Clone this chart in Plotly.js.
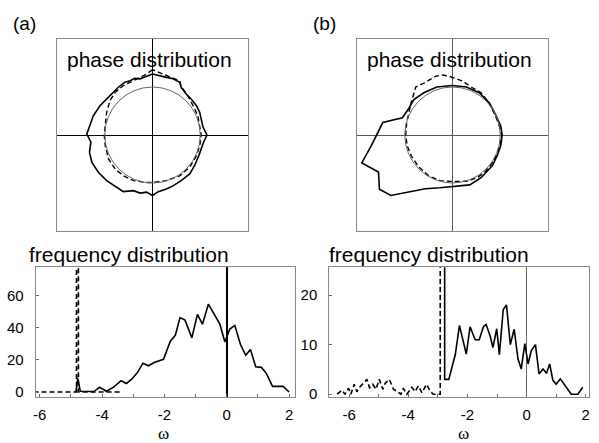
<!DOCTYPE html>
<html>
<head>
<meta charset="utf-8">
<script src="https://cdn.plot.ly/plotly-3.0.1.min.js"></script>
<style>html,body{margin:0;padding:0;background:#fff;}#chart{width:599px;height:443px;}</style>
</head>
<body>
<div id="chart"></div>
<script>
// ---------- DATA ----------
// phase distribution (a): solid and dashed closed curves (x, y in units of circle radius)
const aPhaseSolidX = [0, -0.125, -0.26, -0.37, -0.47, -0.58, -0.72, -0.89, -1.10, -1.24, -1.32, -1.375, -1.29, -1.32, -1.27, -1.13, -0.96, -0.78, -0.61, -0.40, -0.26, -0.125, 0, 0.12, 0.29, 0.43, 0.60, 0.78, 0.88, 0.97, 1.02, 1.07, 1.14, 1.06, 1.02, 0.99, 0.92, 0.81, 0.71, 0.60, 0.57, 0.43, 0.29, 0.15, 0];
const aPhaseSolidY = [1.27, 1.22, 1.17, 1.18, 1.13, 1.10, 0.99, 0.82, 0.61, 0.40, 0.19, 0.02, -0.15, -0.36, -0.57, -0.78, -0.95, -1.06, -1.18, -1.16, -1.21, -1.19, -1.26, -1.18, -1.125, -1.06, -0.95, -0.81, -0.64, -0.43, -0.29, -0.15, 0, 0.16, 0.33, 0.47, 0.61, 0.75, 0.85, 0.99, 1.10, 1.17, 1.20, 1.24, 1.27];
const aPhaseDashX = [0, -0.125, -0.26, -0.40, -0.61, -0.78, -0.89, -0.96, -0.99, -1.01, -0.99, -0.92, -0.78, -0.61, -0.40, -0.125, 0.01, 0.29, 0.57, 0.78, 0.92, 0.99, 1.02, 0.99, 0.95, 0.85, 0.74, 0.60, 0.57, 0.29, 0.15, 0];
const aPhaseDashY = [1.36, 1.27, 1.20, 1.13, 1.03, 0.89, 0.72, 0.47, 0.19, 0, -0.22, -0.5, -0.71, -0.85, -0.95, -0.99, -0.99, -0.95, -0.85, -0.67, -0.43, -0.22, 0, 0.19, 0.40, 0.61, 0.82, 1.01, 1.13, 1.24, 1.29, 1.36];
// phase distribution (b)
const bPhaseSolidX = [0, 0.29, 0.56, 0.77, 0.90, 1.01, 1.04, 1.01, 0.94, 0.84, 0.70, 0.60, 0.36, 0, -0.26, -0.57, -0.88, -1.29, -1.53, -1.55, -1.90, -1.70, -1.46, -1.05, -0.93, -0.81, -0.60, -0.33, 0];
const bPhaseSolidY = [1.03, 1.0, 0.88, 0.67, 0.43, 0.19, 0, -0.22, -0.42, -0.63, -0.78, -0.89, -1.04, -1.08, -1.10, -1.12, -1.18, -1.26, -1.13, -0.77, -0.58, -0.22, 0.26, 0.36, 0.53, 0.74, 0.88, 1.0, 1.03];
const bPhaseDashX = [-0.88, -0.77, -0.60, -0.47, -0.36, -0.23, -0.09, 0.05, 0.22, 0.39, 0.60, 0.77, 0.90, 0.99, 1.03, 0.99, 0.92, 0.82, 0.68, 0.53, 0.32, 0, -0.26, -0.50, -0.71, -0.86, -0.95, -0.98, -0.96, -0.91, -0.88];
const bPhaseDashY = [0.62, 1.0, 1.08, 1.16, 1.22, 1.25, 1.23, 1.18, 1.12, 1.0, 0.88, 0.66, 0.40, 0.16, 0, -0.22, -0.42, -0.60, -0.77, -0.88, -0.96, -0.97, -0.95, -0.85, -0.66, -0.44, -0.22, 0, 0.26, 0.47, 0.62];

// frequency distribution (a)
const aFreqSolidW = [-4.84, -4.78, -4.70, -4.48, -4.26, -4.08, -3.86, -3.63, -3.39, -3.22, -3.04, -2.86, -2.69, -2.51, -2.33, -2.03, -1.81, -1.65, -1.50, -1.34, -1.12, -0.94, -0.78, -0.59, -0.41, -0.22, -0.06, 0.10, 0.26, 0.44, 0.61, 0.76, 0.93, 1.11, 1.27, 1.47, 1.81, 2.00];
const aFreqSolidN = [0, 8.5, 0.5, 0.5, 0.3, 3.0, 0.5, 3.0, 7.0, 5.3, 8.1, 12.2, 17.9, 16.3, 18.3, 20.3, 31.5, 35.2, 46.2, 44.7, 33.6, 48.2, 42.1, 54.5, 48.8, 42.1, 31.0, 39.1, 41.3, 29.5, 22.8, 26.4, 15.7, 15.3, 11.6, 3.5, 3.5, 0];
const aFreqDashW = [-6.2, -4.82, -4.82, -4.76, -4.76, -3.41];
const aFreqDashN = [0, 0, 300, 300, 0, 0];
// frequency distribution (b)
const bFreqSolidW = [-2.77, -2.77, -2.63, -2.49, -2.41, -2.27, -2.13, -2.04, -1.91, -1.74, -1.60, -1.46, -1.37, -1.23, -1.14, -1.01, -0.92, -0.79, -0.68, -0.55, -0.42, -0.29, -0.18, -0.06, 0.05, 0.16, 0.30, 0.42, 0.56, 0.67, 0.78, 0.89, 1.00, 1.14, 1.51, 1.73, 1.90];
const bFreqSolidN = [100, 3.0, 3.0, 6.4, 8.0, 13.9, 10.2, 8.1, 13.6, 11.0, 11.0, 13.6, 14.1, 11.7, 9.4, 13.2, 8.0, 17.1, 18.0, 10.0, 13.1, 7.1, 5.1, 10.2, 6.1, 8.8, 10.0, 4.1, 5.1, 4.2, 6.1, 2.8, 2.0, 3.1, 0, 0, 1.4];
const bFreqDashW = [-6.40, -6.25, -6.14, -6.02, -5.94, -5.83, -5.74, -5.63, -5.52, -5.40, -5.31, -5.20, -5.09, -4.98, -4.86, -4.78, -4.64, -4.50, -4.39, -4.25, -4.17, -4.05, -3.88, -3.77, -3.66, -3.54, -3.38, -3.26, -3.15, -2.98, -2.92, -2.92];
const bFreqDashN = [0, 0.8, 0, 1.2, 0, 2.0, 0.5, 1.5, 2.2, 3.0, 1.3, 2.0, 1.0, 3.0, 1.0, 2.2, 3.0, 1.0, 0.6, 0, 1.2, 0, 1.4, 0.5, 1.7, 0.3, 2.0, 0.6, 0, 0, 0, 100];

// tick labels
const aTickW = [-6, -5, -4, -3, -2, -1, 0, 1, 2];
const aTickWText = ['-6', '', '-4', '', '-2', '', '0', '', '2'];
const aTickN = [0, 20, 40, 60];
const bTickN = [0, 10, 20];

// ---------- PLOT ----------
const W = 599, H = 443;
const px = v => v / W;
const py = v => 1 - v / H;
const FONT = 'Liberation Sans, Arial, Helvetica, sans-serif';

const solid = {color: '#000', width: 1.6};
const dashed = {color: '#000', width: 1.4, dash: '5px,3px'};

const traces = [
  {x: aPhaseSolidX, y: aPhaseSolidY, xaxis: 'x', yaxis: 'y', mode: 'lines', line: solid},
  {x: aPhaseDashX, y: aPhaseDashY, xaxis: 'x', yaxis: 'y', mode: 'lines', line: dashed},
  {x: bPhaseSolidX, y: bPhaseSolidY, xaxis: 'x2', yaxis: 'y2', mode: 'lines', line: solid},
  {x: bPhaseDashX, y: bPhaseDashY, xaxis: 'x2', yaxis: 'y2', mode: 'lines', line: dashed},
  {x: aFreqDashW, y: aFreqDashN, xaxis: 'x3', yaxis: 'y3', mode: 'lines', line: {color: '#000', width: 1.6, dash: '5px,3px'}},
  {x: aFreqSolidW, y: aFreqSolidN, xaxis: 'x3', yaxis: 'y3', mode: 'lines', line: solid},
  {x: bFreqDashW, y: bFreqDashN, xaxis: 'x4', yaxis: 'y4', mode: 'lines', line: {color: '#000', width: 1.6, dash: '5px,3px'}},
  {x: bFreqSolidW, y: bFreqSolidN, xaxis: 'x4', yaxis: 'y4', mode: 'lines', line: solid}
];

function phaseAxis(domain, anchor, zc) {
  return {domain: domain, anchor: anchor, range: [-2, 2], showgrid: false, showticklabels: false, ticks: '',
    showline: true, mirror: true, linecolor: '#888', linewidth: 1,
    zeroline: true, zerolinecolor: zc, zerolinewidth: 1, fixedrange: true};
}
function freqX(domain, anchor, range, zc, zw) {
  return {domain: domain, anchor: anchor, range: range, showgrid: false,
    tickmode: 'array', tickvals: aTickW, ticktext: aTickWText,
    ticks: 'inside', ticklen: 3, tickcolor: '#666', ticklabelstandoff: 4,
    showline: true, mirror: true, linecolor: '#888', linewidth: 1,
    zeroline: true, zerolinecolor: zc, zerolinewidth: zw,
    tickfont: {family: FONT, size: 15, color: '#000'}};
}
function freqY(domain, anchor, range, vals) {
  return {domain: domain, anchor: anchor, range: range, showgrid: false,
    tickmode: 'array', tickvals: vals, ticktext: vals.map(String),
    ticks: 'inside', ticklen: 3, tickcolor: '#666', ticklabelstandoff: 8,
    showline: true, mirror: true, linecolor: '#888', linewidth: 1, zeroline: false,
    tickfont: {family: FONT, size: 15, color: '#000'}};
}

const topY = [py(231), py(39)];
const botY = [py(396.7), py(267.3)];

const layout = {
  width: W, height: H, margin: {l: 0, r: 0, t: 0, b: 0},
  paper_bgcolor: '#fff', plot_bgcolor: '#fff', showlegend: false,
  font: {family: FONT, color: '#000'},
  xaxis: phaseAxis([px(57), px(248)], 'y', '#000'),
  yaxis: phaseAxis(topY, 'x', '#000'),
  xaxis2: phaseAxis([px(357), px(548)], 'y2', '#555'),
  yaxis2: phaseAxis(topY, 'x2', '#555'),
  xaxis3: freqX([px(35.7), px(295)], 'y3', [-6.13, 2.19], '#000', 1.5),
  yaxis3: freqY(botY, 'x3', [-2.9, 77.4], aTickN),
  xaxis4: freqX([px(329.3), px(589)], 'y4', [-6.67, 2.11], '#666', 1),
  yaxis4: freqY(botY, 'x4', [-0.5, 25.6], bTickN),
  shapes: [
    {type: 'circle', xref: 'x', yref: 'y', x0: -1, x1: 1, y0: -1, y1: 1, line: {color: '#666', width: 1}},
    {type: 'circle', xref: 'x2', yref: 'y2', x0: -1, x1: 1, y0: -1, y1: 1, line: {color: '#666', width: 1}}
  ],
  annotations: [
    {text: '(a)', xref: 'paper', yref: 'paper', x: px(11), y: py(24), xanchor: 'left', yanchor: 'middle', showarrow: false, font: {size: 19}},
    {text: '(b)', xref: 'paper', yref: 'paper', x: px(311), y: py(24), xanchor: 'left', yanchor: 'middle', showarrow: false, font: {size: 19}},
    {text: 'phase distribution', xref: 'paper', yref: 'paper', x: px(65), y: py(60), xanchor: 'left', yanchor: 'middle', showarrow: false, font: {size: 21}},
    {text: 'phase distribution', xref: 'paper', yref: 'paper', x: px(365), y: py(60), xanchor: 'left', yanchor: 'middle', showarrow: false, font: {size: 21}},
    {text: 'frequency distribution', xref: 'paper', yref: 'paper', x: px(27), y: py(254), xanchor: 'left', yanchor: 'middle', showarrow: false, font: {size: 21}},
    {text: 'frequency distribution', xref: 'paper', yref: 'paper', x: px(327), y: py(254), xanchor: 'left', yanchor: 'middle', showarrow: false, font: {size: 21}},
    {text: 'ω', xref: 'paper', yref: 'paper', x: px(163), y: py(433), xanchor: 'center', yanchor: 'middle', showarrow: false, font: {size: 17, family: 'Liberation Serif, Times New Roman, serif'}},
    {text: 'ω', xref: 'paper', yref: 'paper', x: px(463), y: py(433), xanchor: 'center', yanchor: 'middle', showarrow: false, font: {size: 17, family: 'Liberation Serif, Times New Roman, serif'}}
  ]
};

Plotly.newPlot('chart', traces, layout, {staticPlot: true, displayModeBar: false});
</script>
</body>
</html>
